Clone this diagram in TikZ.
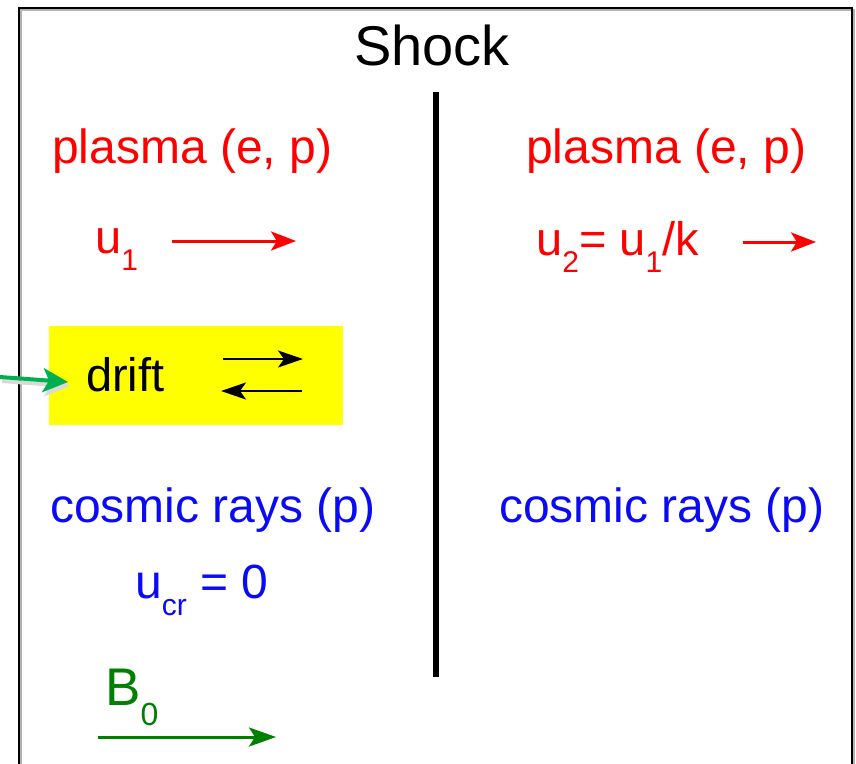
\documentclass[tikz,border=0pt]{standalone}
\usepackage{fontspec}
\setmainfont{Liberation Sans}
\usetikzlibrary{arrows.meta}
\definecolor{myred}{RGB}{255,0,0}
\definecolor{myblue}{RGB}{10,10,245}
\definecolor{mygreen}{RGB}{0,128,0}
\definecolor{arrowgreen}{RGB}{0,176,80}
\definecolor{myyellow}{RGB}{255,255,0}
\newcommand\lsub[2]{\raisebox{#2}{\fontsize{30}{30}\selectfont #1}}
\begin{document}
\begin{tikzpicture}[x=1pt,y=-1pt,
  lbl/.style={inner sep=0, anchor=base west, font=\fontsize{48}{56}\selectfont},
  redarrow/.style={myred, line width=3pt, -{Stealth[length=25pt,width=19pt,inset=6pt]}},
  blackarrow/.style={black, line width=2.5pt, -{Stealth[length=25pt,width=17pt,inset=6pt]}},
  bfield/.style={mygreen, line width=3pt, -{Stealth[length=27pt,width=19pt,inset=6pt]}}]
\useasboundingbox (0,0) rectangle (856,763);
% frame with shadow
\draw[gray!60, line width=2pt] (21,775) -- (21,10) -- (854,10) -- (854,775);
\draw[black, line width=2.5pt] (19,775) -- (19,8) -- (852,8) -- (852,775);
% shock line
\coordinate (shtop) at (436,92);
\coordinate (shbot) at (436,677);
\draw[line width=6pt] (shtop) -- (shbot);
\node[lbl, font=\fontsize{56}{60}\selectfont] (shock) at (354,65) {Shock};
% plasma
\node[lbl, myred] (plL) at (52,163) {plasma (e, p)};
\node[lbl, myred] (plR) at (526,163) {plasma (e, p)};
\node[lbl, myred, font=\fontsize{47}{56}\selectfont] (u1) at (95,253) {u\lsub{1}{-17pt}};
\coordinate (u1a) at (172,241);
\coordinate (u1b) at (296,241);
\draw[redarrow] (u1a) -- (u1b);
\node[lbl, myred, font=\fontsize{47}{56}\selectfont] (u2) at (536,255) {u\lsub{2}{-17pt}= u\lsub{1}{-17pt}/k};
\coordinate (u2a) at (743,242);
\coordinate (u2b) at (816,242);
\draw[redarrow] (u2a) -- (u2b);
% drift box
\node[fill=myyellow, minimum width=294pt, minimum height=99pt, inner sep=0, anchor=north west] (box) at (49,326) {};
\node[lbl, font=\fontsize{47}{56}\selectfont] (drift) at (86,391) {drift};
\coordinate (d1a) at (223,359);
\coordinate (d1b) at (303,359);
\coordinate (d2a) at (302,391);
\coordinate (d2b) at (221,391);
\draw[blackarrow] (d1a) -- (d1b);
\draw[blackarrow] (d2a) -- (d2b);
% green pointer
\coordinate (gtail) at (0,377);
\coordinate (gtip) at (68,382);
\draw[black!15, line width=4pt, -{Stealth[length=25pt,width=24pt,inset=6pt]}] ([shift={(2,4)}]gtail) -- ([shift={(2,4)}]gtip);
\draw[arrowgreen, line width=4pt, -{Stealth[length=25pt,width=24pt,inset=6pt]}] (gtail) -- (gtip);
% cosmic rays
\node[lbl, myblue] (crL) at (50,522) {cosmic rays (p)};
\node[lbl, myblue] (crR) at (499,522) {cosmic rays (p)};
\node[lbl, myblue] (ucr) at (135,598) {u\lsub{cr}{-17pt} = 0};
% B field
\node[lbl, mygreen, font=\fontsize{53}{60}\selectfont] (B0) at (105,705) {B\lsub{\fontsize{32}{32}\selectfont 0}{-20pt}};
\coordinate (ba) at (98,737);
\coordinate (bb) at (276,737);
\draw[bfield] (ba) -- (bb);
\end{tikzpicture}
\end{document}
